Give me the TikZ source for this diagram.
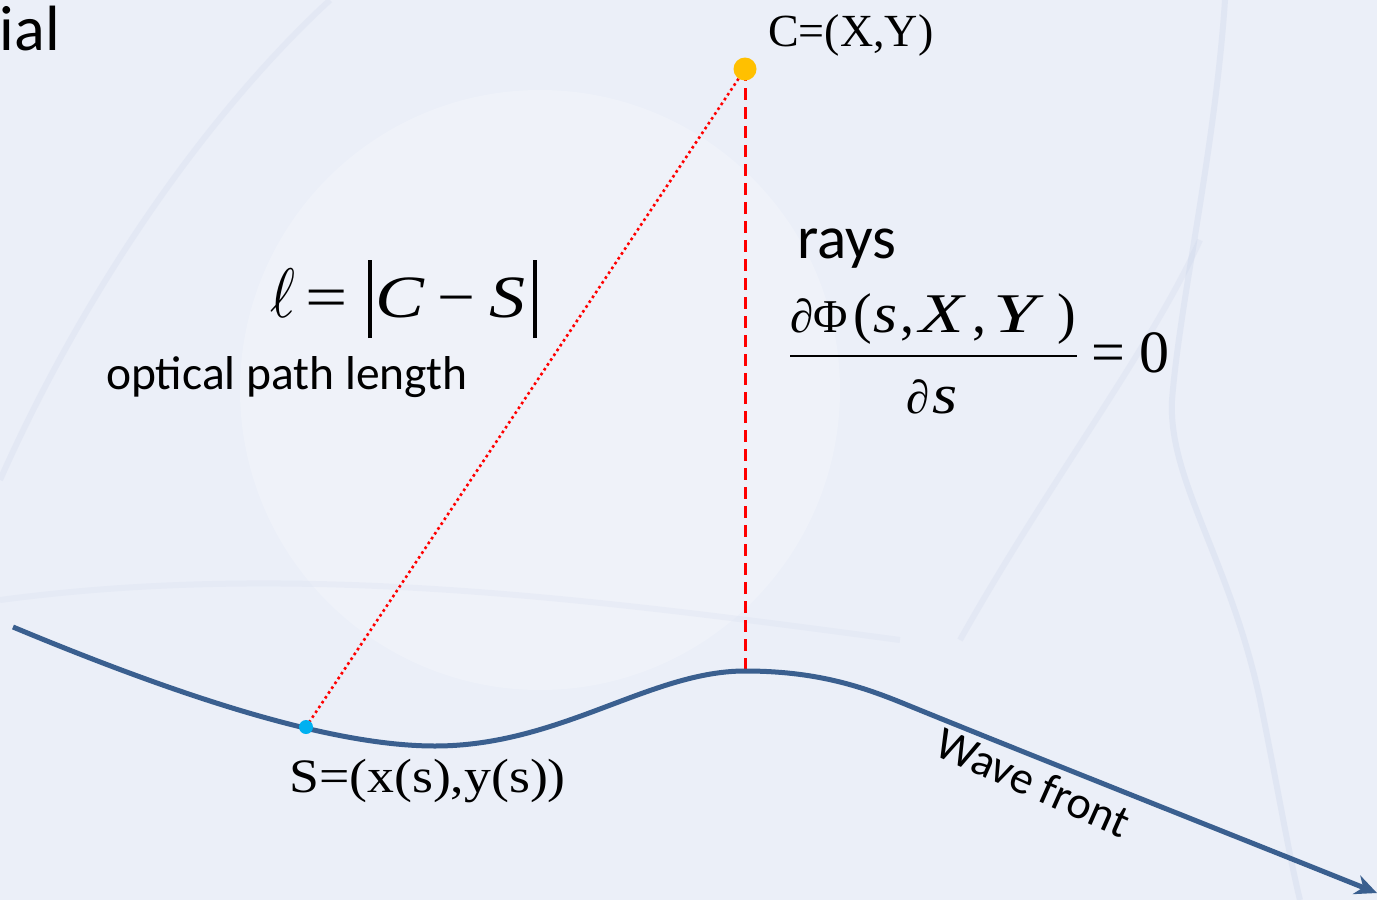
\documentclass[tikz,border=0pt]{standalone}
\usepackage{fontspec}
\setmainfont{Liberation Serif}
\newfontfamily\calib{Carlito}
\newfontfamily\serifx{Liberation Serif}
\usetikzlibrary{arrows.meta}
\definecolor{bgc}{HTML}{EBEFF8}
\definecolor{wavec}{HTML}{3A5F8F}
\definecolor{dotorange}{HTML}{FFC000}
\definecolor{dotcyan}{HTML}{00B0F0}
\definecolor{streak}{HTML}{BCC7E2}
\tikzset{
  sans/.style={inner sep=0pt, font=\calib\fontsize{#1}{#1}\selectfont},
  serif/.style={inner sep=0pt, font=\serifx\fontsize{#1}{#1}\selectfont},
  glyph/.style={inner sep=0pt, anchor=base west, font=\serifx\fontsize{#1}{#1}\selectfont},
  wave/.style={draw=wavec, line width=5pt, -{Stealth[length=22pt,width=20pt]}},
  rayline/.style={draw=red, line width=3pt, dash pattern=on 12pt off 7pt},
  pathline/.style={draw=red, line width=2.6pt, dash pattern=on 2.6pt off 3.2pt},
  bgstreak/.style={draw=streak, line width=6pt, opacity=0.22}
}
\newcommand{\vbar}{\rule[-21pt]{3.5pt}{78pt}}
\newcommand{\wideit}[2]{\scalebox{#1}[1]{\textit{#2}}}
\begin{document}
\begin{tikzpicture}[x=1pt,y=-1pt]
\useasboundingbox (0,0) rectangle (1377,900);
\fill[bgc] (0,0) rectangle (1377,900);
% faint background swirls
\fill[white, opacity=0.2] (540,390) circle (300);
\draw[bgstreak] (1225,0) .. controls (1215,150) and (1180,300) .. (1172,400) .. controls (1168,480) and (1230,560) .. (1260,700) .. controls (1280,800) and (1290,860) .. (1300,900);
\draw[bgstreak, opacity=0.16] (1200,240) .. controls (1150,350) and (1050,480) .. (960,640);
\draw[bgstreak, opacity=0.16] (330,0) .. controls (200,120) and (80,300) .. (0,480);
\draw[bgstreak, opacity=0.12] (0,600) .. controls (300,560) and (600,600) .. (900,640);

% title and labels
\node[sans=64, anchor=base east] (title) at (60,50) {ial};
\node[serif=46, anchor=base west] (clabel) at (768,46) {C=(X,Y)};
\node[sans=61, anchor=base west] (rays) at (797,258) {rays};
\node[sans=47.5, anchor=base west] (opl) at (106,389) {optical path length};
\node[serif=48, anchor=base west] (slabel) at (289,792) {\scalebox{1.12}[1]{S=(x(s),y(s))}};

% numerator of the ray condition
\node[glyph=47] (dphi) at (790,332) {∂Φ};
\node[glyph=56] (nlp) at (853,332) {(};
\node[glyph=56] (ns) at (873,332) {\wideit{1.1}{s}};
\node[glyph=56] (nc1) at (900,332) {,};
\node[glyph=56] (nX) at (919,332) {\wideit{1.3}{X}};
\node[glyph=56] (nc2) at (972,332) {,};
\node[glyph=56] (nY) at (993,332) {\wideit{1.4}{Y}};
\node[glyph=56] (nrp) at (1057,332) {)};
\coordinate (barL) at (790,356);
\coordinate (barR) at (1077,356);
\draw[line width=2.8pt] (barL) -- (barR);
% denominator
\node[glyph=47] (dd) at (906,413) {∂};
\node[glyph=56] (ds) at (932,413) {\wideit{1.15}{s}};
% = 0
\node[glyph=60] (eqs) at (1091,372) {=};
\node[glyph=60] (zero) at (1139,372) {0};

% optical path length equation
\node[inner sep=0pt, anchor=base west, font=\fontsize{10}{12}\selectfont] (ell) at (270,317) {\scalebox{6}[7]{$\ell$}};
\node[glyph=60] (leq) at (305,317) {\scalebox{1.25}[1]{=}};
\node[glyph=60] (lb1) at (368,317) {\vbar};
\node[glyph=60] (lC) at (375,317) {\wideit{1.22}{C}};
\node[glyph=60] (lmin) at (437,317) {\scalebox{1.12}[1]{−}};
\node[glyph=60] (lS) at (489,317) {\wideit{1.2}{S}};
\node[glyph=60] (lb2) at (533,317) {\vbar};

% points
\coordinate (Cpt) at (745,69);
\coordinate (Spt) at (306,727);
\coordinate (peak) at (745,671);

% rays and path
\draw[rayline] (Cpt) -- (peak);
\draw[pathline] (Cpt) -- (Spt);

% wave front
\coordinate (w0) at (13,627);
\coordinate (wmin) at (435,746);
\coordinate (w2) at (900,702);
\coordinate (wend) at (1377,893);
\draw[wave] (w0) .. controls (200,705) and (340,746) .. (wmin)
  .. controls (560,746) and (650,671) .. (peak)
  .. controls (815,671) and (860,686) .. (w2)
  .. controls (1010,747) and (1250,842) .. (wend);
\node[sans=46, rotate=-24] (wf) at (1033,782) {Wave front};

\fill[dotorange] (Cpt) circle (11.5);
\fill[dotcyan] (Spt) circle (7);
\end{tikzpicture}
\end{document}
